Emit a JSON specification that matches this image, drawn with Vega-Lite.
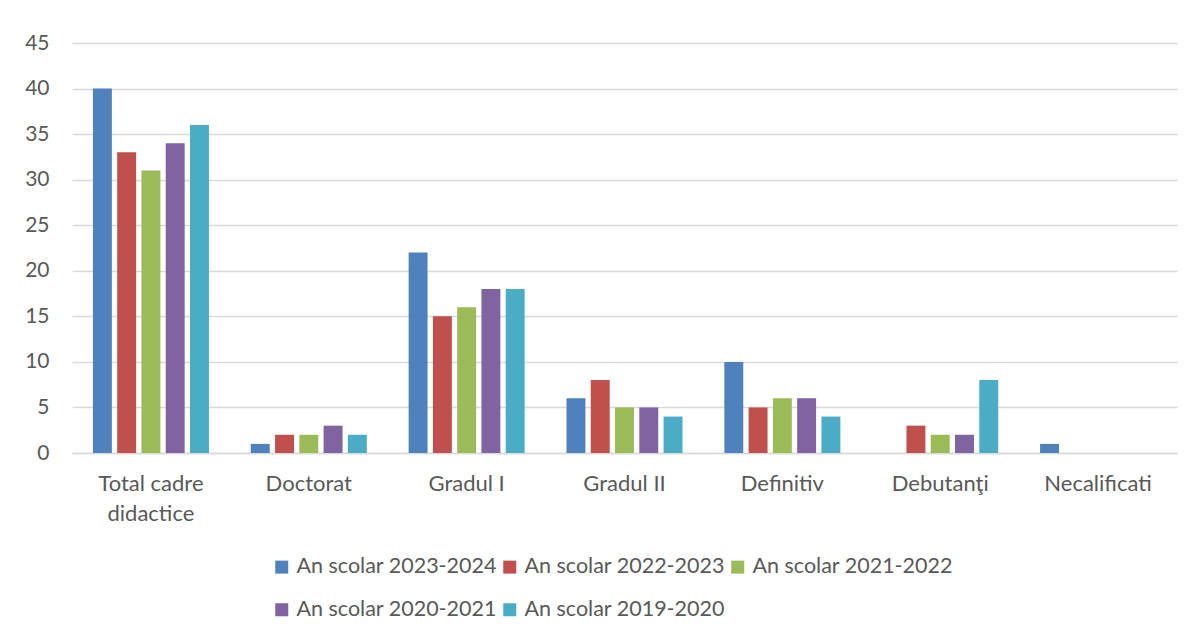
{
  "$schema": "https://vega.github.io/schema/vega-lite/v6.json",
  "width": 1105,
  "height": 410,
  "autosize": "none",
  "padding": {"left": 72, "top": 43, "right": 27, "bottom": 186},
  "background": "white",
  "data": {
    "values": [
      {"cat": "Total cadre didactice", "an": "An scolar 2023-2024", "v": 40},
      {"cat": "Total cadre didactice", "an": "An scolar 2022-2023", "v": 33},
      {"cat": "Total cadre didactice", "an": "An scolar 2021-2022", "v": 31},
      {"cat": "Total cadre didactice", "an": "An scolar 2020-2021", "v": 34},
      {"cat": "Total cadre didactice", "an": "An scolar 2019-2020", "v": 36},
      {"cat": "Doctorat", "an": "An scolar 2023-2024", "v": 1},
      {"cat": "Doctorat", "an": "An scolar 2022-2023", "v": 2},
      {"cat": "Doctorat", "an": "An scolar 2021-2022", "v": 2},
      {"cat": "Doctorat", "an": "An scolar 2020-2021", "v": 3},
      {"cat": "Doctorat", "an": "An scolar 2019-2020", "v": 2},
      {"cat": "Gradul I", "an": "An scolar 2023-2024", "v": 22},
      {"cat": "Gradul I", "an": "An scolar 2022-2023", "v": 15},
      {"cat": "Gradul I", "an": "An scolar 2021-2022", "v": 16},
      {"cat": "Gradul I", "an": "An scolar 2020-2021", "v": 18},
      {"cat": "Gradul I", "an": "An scolar 2019-2020", "v": 18},
      {"cat": "Gradul II", "an": "An scolar 2023-2024", "v": 6},
      {"cat": "Gradul II", "an": "An scolar 2022-2023", "v": 8},
      {"cat": "Gradul II", "an": "An scolar 2021-2022", "v": 5},
      {"cat": "Gradul II", "an": "An scolar 2020-2021", "v": 5},
      {"cat": "Gradul II", "an": "An scolar 2019-2020", "v": 4},
      {"cat": "Definitiv", "an": "An scolar 2023-2024", "v": 10},
      {"cat": "Definitiv", "an": "An scolar 2022-2023", "v": 5},
      {"cat": "Definitiv", "an": "An scolar 2021-2022", "v": 6},
      {"cat": "Definitiv", "an": "An scolar 2020-2021", "v": 6},
      {"cat": "Definitiv", "an": "An scolar 2019-2020", "v": 4},
      {"cat": "Debutanţi", "an": "An scolar 2023-2024", "v": 0},
      {"cat": "Debutanţi", "an": "An scolar 2022-2023", "v": 3},
      {"cat": "Debutanţi", "an": "An scolar 2021-2022", "v": 2},
      {"cat": "Debutanţi", "an": "An scolar 2020-2021", "v": 2},
      {"cat": "Debutanţi", "an": "An scolar 2019-2020", "v": 8},
      {"cat": "Necalificati", "an": "An scolar 2023-2024", "v": 1},
      {"cat": "Necalificati", "an": "An scolar 2022-2023", "v": 0},
      {"cat": "Necalificati", "an": "An scolar 2021-2022", "v": 0},
      {"cat": "Necalificati", "an": "An scolar 2020-2021", "v": 0},
      {"cat": "Necalificati", "an": "An scolar 2019-2020", "v": 0}
    ]
  },
  "mark": {"type": "bar"},
  "encoding": {
    "x": {
      "field": "cat",
      "type": "nominal",
      "sort": null,
      "scale": {"paddingInner": 0.265, "paddingOuter": 0.1325},
      "axis": {
        "title": null,
        "labelAngle": 0,
        "labelExpr": "datum.label == 'Total cadre didactice' ? ['Total cadre', 'didactice'] : datum.label",
        "labelFont": "Lato",
        "labelFontSize": 22,
        "labelColor": "#595959",
        "labelPadding": 30,
        "labelLineHeight": 30,
        "labelBaseline": "middle",
        "ticks": false,
        "domainColor": "#d9d9d9",
        "domainWidth": 1.5,
        "grid": false
      }
    },
    "xOffset": {
      "field": "an",
      "type": "nominal",
      "sort": null,
      "scale": {"paddingInner": 0.22, "paddingOuter": 0}
    },
    "y": {
      "field": "v",
      "type": "quantitative",
      "scale": {"domain": [0, 45], "nice": false},
      "axis": {
        "title": null,
        "values": [0, 5, 10, 15, 20, 25, 30, 35, 40, 45],
        "labelFont": "Lato",
        "labelFontSize": 21,
        "labelColor": "#595959",
        "labelPadding": 23,
        "ticks": false,
        "domain": false,
        "gridColor": "#d9d9d9",
        "gridWidth": 1.5
      }
    },
    "color": {
      "field": "an",
      "type": "nominal",
      "sort": null,
      "scale": {
        "domain": ["An scolar 2023-2024", "An scolar 2022-2023", "An scolar 2021-2022", "An scolar 2020-2021", "An scolar 2019-2020"],
        "range": ["#4F81BD", "#C0504D", "#9BBB59", "#8064A2", "#4BACC6"]
      },
      "legend": {
        "title": null,
        "orient": "none",
        "legendX": 199,
        "legendY": 513,
        "direction": "horizontal",
        "columns": 3,
        "symbolType": "square",
        "symbolSize": 169,
        "symbolStrokeWidth": 0,
        "symbolOpacity": 1,
        "labelFont": "Lato",
        "labelFontSize": 21.5,
        "labelColor": "#595959",
        "labelOffset": 4,
        "columnPadding": 2,
        "rowPadding": 20,
        "labelLimit": 400
      }
    }
  },
  "config": {"view": {"stroke": null}}
}
